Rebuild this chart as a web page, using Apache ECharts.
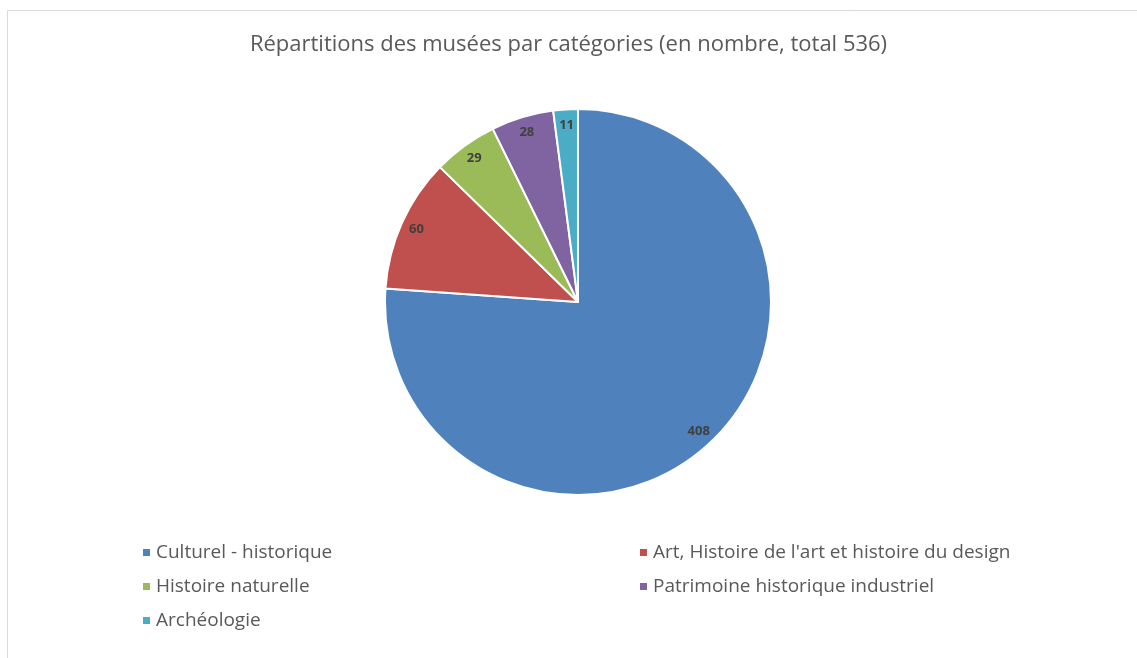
<!DOCTYPE html>
<html>
<head>
<meta charset="utf-8">
<script src="https://cdn.jsdelivr.net/npm/echarts@6/dist/echarts.min.js"></script>
<style>
  html, body { margin: 0; padding: 0; background: #fff; }
  #grafico { width: 1137px; height: 658px; }
</style>
</head>
<body>
<div id="grafico"></div>
<script>
// données
const categories = [
  'Culturel - historique',
  "Art, Histoire de l'art et histoire du design",
  'Histoire naturelle',
  'Patrimoine historique industriel',
  'Archéologie'
];
const valeurs = [408, 60, 29, 28, 11];
const couleurs = ['#4F81BD', '#C0504D', '#9BBB59', '#8064A2', '#4BACC6'];

const police = '"Open Sans", "Noto Sans", sans-serif';
const donnees = categories.map((nom, i) => ({
  name: nom,
  value: valeurs[i],
  itemStyle: { color: couleurs[i] }
}));

const miGrafico = echarts.init(document.getElementById('grafico'));

const legende = (noms, gauche) => ({
  data: noms,
  orient: 'vertical',
  left: gauche,
  top: 538,
  itemWidth: 9,
  itemHeight: 9,
  itemGap: 15,
  icon: 'rect',
  textStyle: { color: '#595959', fontSize: 19, fontFamily: police }
});

miGrafico.setOption({
  animation: false,
  graphic: [{
    type: 'rect',
    shape: { x: 7.5, y: 10.5, width: 1140, height: 660 },
    style: { fill: 'none', stroke: '#d9d9d9', lineWidth: 1 },
    silent: true
  }],
  title: {
    text: 'Répartitions des musées par catégories (en nombre, total 536)',
    left: 'center',
    top: 29,
    textStyle: { color: '#595959', fontSize: 22, fontWeight: 'normal', fontFamily: police }
  },
  legend: [
    legende([categories[0], categories[2], categories[4]], 136),
    legende([categories[1], categories[3]], 633)
  ],
  series: [
    {
      type: 'pie',
      center: [578, 302],
      radius: 193,
      startAngle: 90,
      clockwise: true,
      label: { show: false },
      labelLine: { show: false },
      itemStyle: { borderColor: '#fff', borderWidth: 2 },
      emphasis: { disabled: true },
      data: donnees
    },
    {
      // anneau transparent pour placer les étiquettes près du bord
      type: 'pie',
      center: [578, 302],
      radius: [166, 182],
      startAngle: 90,
      clockwise: true,
      silent: true,
      itemStyle: { color: 'transparent' },
      label: {
        show: true,
        position: 'inside',
        formatter: '{c}',
        color: '#404040',
        fontSize: 13,
        fontWeight: 'bold',
        fontFamily: police
      },
      labelLine: { show: false },
      emphasis: { disabled: true },
      data: categories.map((nom, i) => ({ name: nom, value: valeurs[i] }))
    }
  ]
});
</script>
</body>
</html>
